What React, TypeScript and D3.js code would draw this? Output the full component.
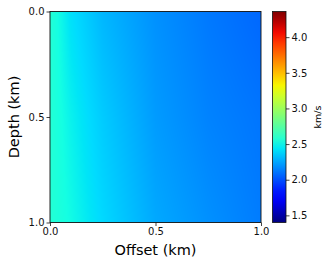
import { useEffect, useRef } from 'react';
import * as d3 from 'd3';

const offsets = [0, 0.1, 0.25, 0.5, 0.75, 1.0];
const depths = [0, 0.5, 1.0];
const velTop = [2.56, 2.42, 2.3, 2.19, 2.12, 2.07];
const velMid = [2.56, 2.47, 2.36, 2.22, 2.15, 2.11];
const velBot = [2.56, 2.5, 2.4, 2.26, 2.19, 2.13];
const velRows = [velTop, velMid, velBot];

const axisTicks = [0, 0.5, 1.0];
const cbarTicks = [1.5, 2.0, 2.5, 3.0, 3.5, 4.0];
const vmin = 1.4;
const vmax = 4.36;

// matplotlib "jet" segment data
const jetR = [[0, 0], [0.35, 0], [0.66, 1], [0.89, 1], [1, 0.5]];
const jetG = [[0, 0], [0.125, 0], [0.375, 1], [0.64, 1], [0.91, 0], [1, 0]];
const jetB = [[0, 0.5], [0.11, 1], [0.34, 1], [0.65, 0], [1, 0]];

function seg(s: number[][], t: number) {
  for (let i = 1; i < s.length; i++) {
    if (t <= s[i][0]) {
      const f = (t - s[i - 1][0]) / (s[i][0] - s[i - 1][0]);
      return s[i - 1][1] + f * (s[i][1] - s[i - 1][1]);
    }
  }
  return s[s.length - 1][1];
}
function jet(t: number): [number, number, number] {
  t = Math.max(0, Math.min(1, t));
  return [seg(jetR, t) * 255, seg(jetG, t) * 255, seg(jetB, t) * 255];
}

export default function App() {
  const svgRef = useRef<SVGSVGElement>(null);

  useEffect(() => {
    const margin = { left: 50, top: 11.5 };
    const size = 211;
    const svg = d3.select(svgRef.current);
    svg.selectAll('*').remove();

    const x = d3.scaleLinear().domain([0, 1]).range([margin.left, margin.left + size]);
    const y = d3.scaleLinear().domain([0, 1]).range([margin.top, margin.top + size]);
    const norm = d3.scaleLinear().domain([vmin, vmax]).range([0, 1]);

    // bilinear lookup in the coarse grid, only for display
    const colInterp = velRows.map(r => d3.scaleLinear().domain(offsets).range(r).clamp(true));
    const vel = (ox: number, dz: number) => {
      const vals = colInterp.map(f => f(ox));
      return d3.scaleLinear().domain(depths).range(vals).clamp(true)(dz);
    };

    const canvas = document.createElement('canvas');
    canvas.width = size;
    canvas.height = size;
    const ctx = canvas.getContext('2d')!;
    const img = ctx.createImageData(size, size);
    for (let j = 0; j < size; j++) {
      for (let i = 0; i < size; i++) {
        const c = jet(norm(vel((i + 0.5) / size, (j + 0.5) / size)));
        const k = (j * size + i) * 4;
        img.data[k] = c[0];
        img.data[k + 1] = c[1];
        img.data[k + 2] = c[2];
        img.data[k + 3] = 255;
      }
    }
    ctx.putImageData(img, 0, 0);
    svg.append('image')
      .attr('x', margin.left).attr('y', margin.top)
      .attr('width', size).attr('height', size)
      .attr('preserveAspectRatio', 'none')
      .attr('href', canvas.toDataURL());

    svg.append('rect')
      .attr('x', margin.left).attr('y', margin.top)
      .attr('width', size).attr('height', size)
      .attr('fill', 'none').attr('stroke', '#111').attr('stroke-width', 0.9);

    const font = 'DejaVu Sans, sans-serif';

    const xAxis = svg.append('g')
      .attr('transform', `translate(0,${margin.top + size})`)
      .call(d3.axisBottom(x).tickValues(axisTicks).tickFormat(d3.format('.1f')).tickSize(3.5).tickPadding(2));
    const yAxis = svg.append('g')
      .attr('transform', `translate(${margin.left},0)`)
      .call(d3.axisLeft(y).tickValues(axisTicks).tickFormat(d3.format('.1f')).tickSize(3.5).tickPadding(2));
    [xAxis, yAxis].forEach(g => {
      g.select('.domain').remove();
      g.selectAll('line').attr('stroke', '#111').attr('stroke-width', 0.8);
      g.selectAll('text').attr('fill', '#111').style('font-family', font).style('font-size', '10px');
    });

    svg.append('text')
      .attr('x', margin.left + size / 2).attr('y', 255)
      .attr('text-anchor', 'middle')
      .style('font-family', font).style('font-size', '14.5px')
      .text('Offset (km)');
    svg.append('text')
      .attr('transform', `translate(18.5,${margin.top + size / 2}) rotate(-90)`)
      .attr('text-anchor', 'middle')
      .style('font-family', font).style('font-size', '14.5px')
      .text('Depth (km)');

    // colorbar
    const cb = { x: 272.5, w: 13.5 };
    const cy = d3.scaleLinear().domain([vmin, vmax]).range([margin.top + size, margin.top]);
    const grad = svg.append('defs').append('linearGradient')
      .attr('id', 'jetgrad').attr('x1', 0).attr('y1', 1).attr('x2', 0).attr('y2', 0);
    d3.range(0, 1.0001, 0.05).forEach(t => {
      const c = jet(t);
      grad.append('stop').attr('offset', t)
        .attr('stop-color', `rgb(${c.map(Math.round).join(',')})`);
    });
    svg.append('rect')
      .attr('x', cb.x).attr('y', margin.top)
      .attr('width', cb.w).attr('height', size)
      .attr('fill', 'url(#jetgrad)')
      .attr('stroke', '#111').attr('stroke-width', 0.8);
    const cAxis = svg.append('g')
      .attr('transform', `translate(${cb.x + cb.w},0)`)
      .call(d3.axisRight(cy).tickValues(cbarTicks).tickFormat(d3.format('.1f')).tickSize(3.5).tickPadding(2));
    cAxis.select('.domain').remove();
    cAxis.selectAll('line').attr('stroke', '#111').attr('stroke-width', 0.8);
    cAxis.selectAll('text').attr('fill', '#111').style('font-family', font).style('font-size', '10px');

    svg.append('text')
      .attr('transform', `translate(321,${margin.top + size / 2}) rotate(-90)`)
      .attr('text-anchor', 'middle')
      .style('font-family', font).style('font-size', '9.5px')
      .text('km/s');
  }, []);

  return (
    <div style={{ position: 'fixed', left: 0, top: 0, background: 'white' }}>
      <svg ref={svgRef} width={332} height={267} style={{ display: 'block' }} />
    </div>
  );
}
